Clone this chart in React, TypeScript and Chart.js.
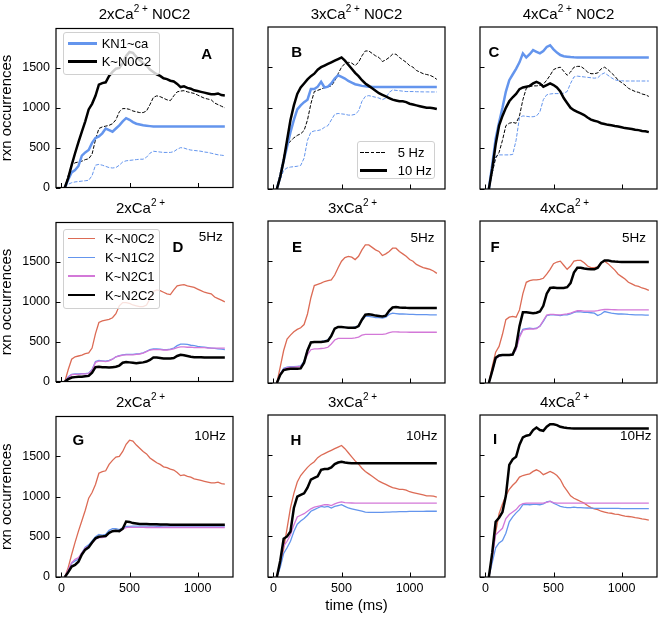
import React, { useEffect, useRef } from 'react';
import { Chart, registerables } from 'chart.js';

Chart.register(...registerables);

const FONT = "'Liberation Sans', Arial, Helvetica, sans-serif";
const RED = '#dc6b55';
const BLUE = '#6495ed';
const VIOLET = '#d378d8';
const BLACK = '#000000';
const DASH = [3.7, 1.6];

// time axis (ms)
const timeMs = [
  25, 50, 75, 100, 125, 150, 175, 200, 225, 250, 275, 300,
  325, 350, 375, 400, 425, 450, 475, 500, 525, 550, 575, 600,
  625, 650, 675, 700, 725, 750, 775, 800, 825, 850, 875, 900,
  925, 950, 975, 1000, 1025, 1050, 1075, 1100, 1125, 1150, 1175, 1200,
];
const xTicks = [0, 500, 1000];
const yTicks = [0, 500, 1000, 1500];

// ---- K~N0C2, 5 Hz (2x, 3x, 4x Ca2+)
const n0c2_5Hz_2x = [
  0, 150, 280, 310, 320, 330, 350, 360, 420, 600, 740, 760,
  770, 780, 800, 850, 950, 990, 990, 980, 960, 950, 940, 940,
  960, 1040, 1130, 1150, 1140, 1120, 1100, 1090, 1150, 1200, 1210, 1215,
  1200, 1190, 1180, 1160, 1140, 1120, 1110, 1100, 1060, 1040, 1020, 1000,
];
const n0c2_5Hz_3x = [
  0, 200, 400, 540, 590, 630, 660, 680, 720, 850, 1050, 1200,
  1215, 1230, 1250, 1260, 1270, 1330, 1420, 1500, 1545, 1560, 1550, 1520,
  1560, 1640, 1700, 1700, 1670, 1640, 1620, 1570, 1590, 1620, 1660, 1660,
  1620, 1590, 1560, 1520, 1500, 1460, 1440, 1420, 1410, 1400, 1380, 1350,
];
const n0c2_5Hz_4x = [
  0, 200, 380, 450, 600, 780, 810, 820, 810, 900, 1100, 1240,
  1260, 1270, 1270, 1275, 1290, 1340, 1400, 1470, 1490, 1500, 1450, 1400,
  1440, 1500, 1510, 1510, 1480, 1440, 1420, 1420, 1430, 1480, 1500, 1470,
  1430, 1390, 1340, 1310, 1280, 1240, 1220, 1200, 1190, 1170, 1160, 1140,
];
// ---- K~N0C2, 10 Hz
const n0c2_10Hz_2x = [
  0, 120, 280, 430, 570, 700, 830, 980, 1050, 1150, 1290, 1310,
  1320, 1400, 1450, 1490, 1500, 1560, 1650, 1700, 1690, 1640, 1600, 1560,
  1530, 1480, 1450, 1420, 1400, 1370, 1360, 1340, 1330, 1300, 1260, 1270,
  1250, 1240, 1220, 1210, 1200, 1190, 1180, 1170, 1170, 1180, 1160, 1155,
];
const n0c2_10Hz_3x = [
  0, 150, 350, 600, 850, 1030, 1170, 1250, 1300, 1350, 1390, 1420,
  1470, 1500, 1520, 1540, 1560, 1580, 1600, 1620, 1580, 1530, 1480, 1430,
  1390, 1340, 1300, 1270, 1240, 1210, 1180, 1160, 1140, 1120, 1100, 1090,
  1080, 1080, 1070, 1050, 1040, 1030, 1020, 1010, 1000, 1000, 995, 985,
];
const n0c2_10Hz_4x = [
  0, 250, 550, 780, 900, 1000, 1080, 1130, 1170, 1230, 1250, 1260,
  1270, 1300, 1320, 1300, 1260, 1280, 1300, 1280, 1250, 1200, 1120, 1060,
  1000, 970, 950, 930, 910, 880, 855, 840, 830, 810, 800, 790,
  785, 775, 770, 760, 750, 745, 740, 730, 725, 715, 710, 700,
];
// ---- KN1~ca (row 1)
const n1ca_5Hz_2x = [
  0, 40, 60, 70, 75, 80, 85, 90, 150, 280, 290, 280,
  265, 250, 245, 250, 280, 320, 335, 340, 345, 350, 355, 355,
  380, 430, 455, 450, 445, 440, 440, 440, 450, 480, 500, 495,
  480, 470, 465, 460, 455, 445, 440, 430, 420, 410, 405, 400,
];
const n1ca_5Hz_3x = [
  0, 120, 230, 260, 270, 275, 280, 290, 380, 600, 700, 715,
  720, 730, 760, 780, 850, 920, 930, 925, 920, 910, 910, 920,
  960, 1080, 1140, 1150, 1140, 1130, 1120, 1100, 1120, 1190, 1220, 1215,
  1210, 1205, 1200, 1200, 1200, 1198, 1197, 1196, 1196, 1195, 1195, 1195,
];
const n1ca_5Hz_4x = [
  0, 200, 400, 420, 420, 420, 420, 425, 600, 880, 900, 895,
  890, 890, 900, 950, 1100, 1160, 1170, 1175, 1175, 1175, 1180, 1200,
  1300, 1380, 1390, 1385, 1380, 1375, 1370, 1365, 1370, 1410, 1430, 1400,
  1370, 1345, 1335, 1332, 1330, 1330, 1330, 1330, 1330, 1330, 1330, 1330,
];
const n1ca_10Hz_2x = [
  0, 100, 190, 220, 270, 400, 440, 470, 560, 620, 640, 680,
  740, 720, 700, 740, 780, 830, 870, 850, 820, 800, 790, 780,
  775, 770, 765, 765, 765, 765, 765, 765, 765, 765, 765, 765,
  765, 765, 765, 765, 765, 765, 765, 765, 765, 765, 765, 765,
];
const n1ca_10Hz_3x = [
  0, 150, 350, 520, 700, 850, 980, 1030, 1070, 1100, 1230, 1230,
  1260, 1320, 1250, 1260, 1300, 1360, 1400, 1380, 1360, 1330, 1310, 1290,
  1280, 1270, 1265, 1260, 1258, 1257, 1256, 1256, 1256, 1256, 1256, 1256,
  1257, 1257, 1257, 1257, 1257, 1257, 1257, 1257, 1257, 1257, 1257, 1257,
];
const n1ca_10Hz_4x = [
  0, 300, 620, 820, 1000, 1200, 1340, 1410, 1480, 1560, 1670, 1620,
  1660, 1710, 1690, 1670, 1700, 1750, 1770, 1720, 1680, 1650, 1635, 1630,
  1625, 1622, 1620, 1620, 1620, 1620, 1620, 1620, 1620, 1620, 1620, 1620,
  1620, 1620, 1620, 1620, 1620, 1620, 1620, 1620, 1620, 1620, 1620, 1620,
];
// ---- K~N1C2
const n1c2_5Hz_2x = [
  0, 60, 90, 95, 95, 100, 100, 105, 150, 250, 265, 260,
  255, 265, 280, 310, 325, 335, 340, 340, 340, 345, 350, 360,
  380, 400, 410, 410, 405, 400, 400, 405, 420, 450, 470, 470,
  465, 455, 450, 440, 435, 430, 425, 420, 415, 410, 405, 400,
];
const n1c2_5Hz_3x = [
  0, 110, 180, 195, 200, 200, 205, 210, 270, 410, 500, 505,
  505, 510, 520, 530, 590, 670, 690, 690, 685, 680, 680, 690,
  700, 770, 820, 820, 815, 805, 805, 800, 810, 845, 860, 855,
  850, 850, 848, 845, 845, 843, 842, 842, 841, 840, 840, 840,
];
const n1c2_5Hz_4x = [
  0, 150, 300, 330, 340, 340, 345, 350, 420, 580, 660, 670,
  675, 670, 675, 700, 760, 830, 840, 840, 835, 830, 840, 840,
  850, 870, 880, 875, 870, 870, 865, 860, 830, 850, 880, 870,
  860, 855, 850, 850, 848, 845, 843, 840, 840, 838, 836, 835,
];
const n1c2_10Hz_2x = [
  0, 80, 170, 200, 220, 300, 370, 400, 450, 500, 530, 520,
  530, 580, 600, 600, 590, 610, 630, 630, 632, 632, 632, 632,
  633, 632, 632, 631, 631, 632, 632, 633, 633, 632, 632, 632,
  632, 632, 632, 632, 632, 632, 632, 632, 632, 632, 632, 632,
];
const n1c2_10Hz_3x = [
  0, 120, 290, 360, 440, 560, 650, 690, 720, 760, 810, 830,
  850, 870, 860, 870, 850, 870, 880, 890, 870, 850, 840, 830,
  820, 810, 800, 795, 795, 795, 795, 797, 800, 800, 802, 803,
  804, 805, 806, 807, 808, 808, 809, 809, 810, 810, 810, 810,
];
const n1c2_10Hz_4x = [
  0, 180, 360, 420, 450, 540, 680, 740, 790, 830, 890, 895,
  890, 895, 895, 890, 900, 925, 935, 910, 890, 870, 860, 855,
  855, 860, 855, 855, 852, 850, 848, 846, 845, 845, 845, 845,
  845, 844, 844, 843, 843, 843, 843, 843, 843, 843, 843, 843,
];
// ---- K~N2C1
const n2c1_5Hz_2x = [
  0, 50, 85, 90, 90, 95, 95, 100, 140, 240, 255, 255,
  250, 260, 280, 310, 320, 330, 335, 335, 335, 340, 345, 355,
  375, 395, 400, 400, 400, 395, 395, 400, 410, 425, 435, 435,
  430, 430, 425, 425, 425, 425, 420, 420, 420, 420, 420, 420,
];
const n2c1_5Hz_3x = [
  0, 110, 170, 190, 195, 195, 200, 205, 250, 350, 410, 420,
  420, 425, 430, 440, 480, 530, 550, 550, 550, 550, 550, 555,
  565, 590, 600, 600, 600, 600, 600, 600, 605, 620, 630, 630,
  628, 627, 626, 625, 625, 625, 625, 625, 625, 625, 625, 625,
];
const n2c1_5Hz_4x = [
  0, 140, 300, 330, 345, 350, 350, 355, 410, 560, 650, 660,
  665, 665, 670, 700, 770, 835, 845, 845, 840, 840, 845, 850,
  860, 875, 890, 890, 885, 885, 885, 885, 890, 900, 905, 905,
  903, 902, 901, 900, 900, 900, 900, 900, 900, 900, 900, 900,
];
const n2c1_10Hz_2x = [
  0, 90, 180, 220, 240, 300, 360, 380, 420, 470, 490, 490,
  500, 550, 570, 570, 570, 590, 615, 620, 618, 617, 616, 616,
  615, 615, 615, 615, 615, 615, 615, 615, 615, 615, 615, 615,
  615, 615, 615, 615, 615, 615, 615, 615, 615, 615, 615, 615,
];
const n2c1_10Hz_3x = [
  0, 200, 380, 440, 520, 640, 740, 760, 780, 810, 840, 860,
  870, 880, 890, 890, 880, 900, 915, 925, 915, 912, 911, 910,
  910, 910, 910, 910, 910, 910, 910, 910, 910, 910, 910, 910,
  910, 910, 910, 910, 910, 910, 910, 910, 910, 910, 910, 910,
];
const n2c1_10Hz_4x = [
  0, 250, 520, 560, 600, 720, 770, 800, 830, 880, 905, 910,
  910, 910, 910, 910, 910, 920, 930, 915, 910, 910, 910, 910,
  910, 910, 910, 910, 910, 910, 910, 910, 910, 910, 910, 910,
  910, 910, 910, 910, 910, 910, 910, 910, 910, 910, 910, 910,
];
// ---- K~N2C2
const n2c2_5Hz_2x = [
  0, 30, 50, 55, 60, 60, 65, 70, 110, 180, 185, 180,
  178, 175, 180, 185, 200, 235, 245, 240, 235, 230, 235, 240,
  250, 270, 300, 300, 295, 290, 290, 290, 295, 320, 335, 330,
  320, 310, 305, 305, 305, 300, 300, 300, 300, 300, 300, 300,
];
const n2c2_5Hz_3x = [
  0, 100, 160, 170, 175, 175, 175, 180, 250, 400, 500, 505,
  505, 505, 510, 520, 580, 670, 690, 690, 685, 680, 680, 680,
  700, 780, 840, 845, 840, 830, 825, 820, 830, 890, 930, 935,
  930, 928, 926, 925, 925, 925, 925, 925, 925, 925, 925, 925,
];
const n2c2_5Hz_4x = [
  0, 150, 310, 340, 345, 345, 345, 350, 450, 700, 870, 870,
  865, 860, 865, 880, 950, 1100, 1170, 1175, 1170, 1170, 1170, 1180,
  1230, 1360, 1420, 1420, 1410, 1405, 1400, 1400, 1420, 1480, 1510, 1510,
  1500, 1495, 1492, 1490, 1490, 1490, 1490, 1490, 1490, 1490, 1490, 1490,
];
const n2c2_10Hz_2x = [
  0, 60, 130, 150, 190, 280, 340, 370, 430, 480, 500, 505,
  510, 550, 570, 575, 570, 600, 690, 685, 670, 665, 660, 660,
  658, 656, 655, 655, 653, 652, 652, 651, 651, 650, 650, 650,
  650, 650, 650, 650, 650, 650, 650, 650, 650, 650, 650, 650,
];
const n2c2_10Hz_3x = [
  0, 200, 470, 500, 560, 850, 990, 1010, 1030, 1100, 1200, 1220,
  1240, 1320, 1330, 1330, 1350, 1390, 1410, 1420, 1410, 1405, 1400, 1400,
  1400, 1400, 1400, 1400, 1400, 1400, 1400, 1400, 1400, 1400, 1400, 1400,
  1400, 1400, 1400, 1400, 1400, 1400, 1400, 1400, 1400, 1400, 1400, 1400,
];
const n2c2_10Hz_4x = [
  0, 300, 680, 730, 800, 1000, 1380, 1450, 1480, 1630, 1720, 1740,
  1750, 1810, 1840, 1810, 1800, 1850, 1880, 1880, 1870, 1850, 1840, 1835,
  1832, 1830, 1830, 1830, 1830, 1830, 1830, 1830, 1830, 1830, 1830, 1830,
  1830, 1830, 1830, 1830, 1830, 1830, 1830, 1830, 1830, 1830, 1830, 1830,
];

const caLevels = ['2', '3', '4'];
const panelLetters = [['A', 'B', 'C'], ['D', 'E', 'F'], ['G', 'H', 'I']];

// ---- layout (page pixels)
const BOX_L = [56, 268, 480];
const BOX_T = [27, 221, 415];
const BOX_W = 177;
const BOX_H = 162;

type Line = { data: number[]; color: string; width: number; dash?: number[] };

const n0c2_5 = [n0c2_5Hz_2x, n0c2_5Hz_3x, n0c2_5Hz_4x];
const n0c2_10 = [n0c2_10Hz_2x, n0c2_10Hz_3x, n0c2_10Hz_4x];
const n1ca_5 = [n1ca_5Hz_2x, n1ca_5Hz_3x, n1ca_5Hz_4x];
const n1ca_10 = [n1ca_10Hz_2x, n1ca_10Hz_3x, n1ca_10Hz_4x];
const n1c2 = [[n1c2_5Hz_2x, n1c2_5Hz_3x, n1c2_5Hz_4x], [n1c2_10Hz_2x, n1c2_10Hz_3x, n1c2_10Hz_4x]];
const n2c1 = [[n2c1_5Hz_2x, n2c1_5Hz_3x, n2c1_5Hz_4x], [n2c1_10Hz_2x, n2c1_10Hz_3x, n2c1_10Hz_4x]];
const n2c2 = [[n2c2_5Hz_2x, n2c2_5Hz_3x, n2c2_5Hz_4x], [n2c2_10Hz_2x, n2c2_10Hz_3x, n2c2_10Hz_4x]];

function linesFor(row: number, col: number): Line[] {
  if (row === 0) {
    return [
      { data: n0c2_10[col], color: BLACK, width: 2.5 },
      { data: n1ca_10[col], color: BLUE, width: 2.5 },
      { data: n0c2_5[col], color: BLACK, width: 1, dash: DASH },
      { data: n1ca_5[col], color: BLUE, width: 1, dash: DASH },
    ];
  }
  const f = row - 1;
  const red = f === 0 ? n0c2_5[col] : n0c2_10[col];
  return [
    { data: n2c2[f][col], color: BLACK, width: 2.5 },
    { data: n2c1[f][col], color: VIOLET, width: 1.3 },
    { data: n1c2[f][col], color: BLUE, width: 1.3 },
    { data: red, color: RED, width: 1.3 },
  ];
}

const framePlugin = {
  id: 'frameTicks',
  afterDatasetsDraw(chart: any) {
    const { ctx, chartArea: a, scales } = chart;
    ctx.save();
    ctx.strokeStyle = '#000';
    ctx.lineWidth = 1;
    ctx.beginPath();
    for (const v of xTicks) {
      const px = Math.round(scales.x.getPixelForValue(v)) + 0.5;
      ctx.moveTo(px, a.bottom);
      ctx.lineTo(px, a.bottom - 4.5);
    }
    for (const v of yTicks) {
      const py = Math.round(scales.y.getPixelForValue(v)) + 0.5;
      ctx.moveTo(a.left, py);
      ctx.lineTo(a.left + 4.5, py);
    }
    ctx.stroke();
    ctx.lineWidth = 1.2;
    ctx.strokeRect(a.left, a.top, a.right - a.left, a.bottom - a.top);
    ctx.restore();
  },
};

function PanelChart({ row, col }: { row: number; col: number }) {
  const ref = useRef<HTMLCanvasElement>(null);
  const ML = col === 0 ? 57 : 12;
  const MR = col === 2 ? 2 : 12;
  const MT = 12;
  const MB = row === 2 ? 40 : 12;
  const left = BOX_L[col] - ML;
  const top = BOX_T[row] - MT;
  const width = ML + BOX_W + MR;
  const height = MT + BOX_H + MB;

  useEffect(() => {
    if (!ref.current) return;
    const lines = linesFor(row, col);
    const chart = new Chart(ref.current, {
      type: 'line',
      data: {
        datasets: lines.map((l) => ({
          data: timeMs.map((t, i) => ({ x: t, y: l.data[i] })),
          borderColor: l.color,
          borderWidth: l.width,
          borderDash: l.dash || [],
          pointRadius: 0,
          fill: false,
          tension: 0,
        })),
      },
      options: {
        responsive: false,
        animation: false,
        devicePixelRatio: 1,
        events: [],
        layout: { padding: { left: 0, top: MT, right: MR, bottom: 0 } },
        plugins: { legend: { display: false }, tooltip: { enabled: false }, title: { display: false } },
        scales: {
          x: {
            type: 'linear',
            min: -40,
            max: 1260,
            afterBuildTicks: (s: any) => { s.ticks = xTicks.map((v) => ({ value: v })); },
            afterFit: (s: any) => { s.height = MB; },
            grid: { display: false, drawTicks: false },
            border: { display: false },
            ticks: {
              display: row === 2,
              maxRotation: 0,
              autoSkip: false,
              color: '#000',
              padding: 4,
              font: { family: FONT, size: 12.5 },
              callback: (v: any) => String(v),
            },
            title: {
              display: row === 2 && col === 1,
              text: 'time (ms)',
              color: '#000',
              font: { family: FONT, size: 15, lineHeight: 1 },
              padding: { top: 0, bottom: 3.8 },
            },
          },
          y: {
            type: 'linear',
            min: 0,
            max: 1995,
            afterBuildTicks: (s: any) => { s.ticks = yTicks.map((v) => ({ value: v })); },
            afterFit: (s: any) => { s.width = ML; },
            grid: { display: false, drawTicks: false },
            border: { display: false },
            ticks: {
              display: col === 0,
              autoSkip: false,
              color: '#000',
              padding: 6,
              font: { family: FONT, size: 12.5 },
              callback: (v: any) => String(v),
            },
            title: {
              display: col === 0,
              text: 'rxn occurrences',
              color: '#000',
              font: { family: FONT, size: 15, lineHeight: 1 },
              padding: { top: 0, bottom: 0 },
            },
          },
        },
      } as any,
      plugins: [framePlugin],
    });
    return () => chart.destroy();
  }, [row, col]);

  return (
    <canvas
      ref={ref}
      width={width}
      height={height}
      style={{ position: 'absolute', left, top, width, height }}
    />
  );
}

const textBase: React.CSSProperties = { position: 'absolute', fontFamily: FONT, whiteSpace: 'nowrap', color: '#000' };

function PanelTitle({ row, col }: { row: number; col: number }) {
  const cx = BOX_L[col] + BOX_W / 2 + (row === 0 ? 0 : -4);
  const top = BOX_T[row] - 21.4;
  const suffix = row === 0 ? ' N0C2' : '';
  return (
    <div style={{ ...textBase, left: cx, top, transform: 'translateX(-50%)', fontSize: 15, lineHeight: '15px' }}>
      {caLevels[col]}xCa
      <span style={{ fontSize: 10, position: 'relative', top: -6.6 }}>2 +</span>
      {suffix}
    </div>
  );
}

// letter centres and Hz label centres (page px)
const letterPos = [
  [[206.7, 53.3], [296.7, 51.7], [494, 51]],
  [[178, 246], [297, 246], [495, 246.7]],
  [[78.3, 439], [296, 439], [495, 438.3]],
];
const hzLabels = [
  [null, null, null],
  [['5Hz', 210.8, 236.7], ['5Hz', 422.5, 238], ['5Hz', 634, 238]],
  [['10Hz', 210, 436], ['10Hz', 421.7, 436], ['10Hz', 635.8, 436]],
] as const;

function CenteredText({ x, y, text, size, bold }: { x: number; y: number; text: string; size: number; bold?: boolean }) {
  return (
    <div
      style={{
        ...textBase,
        left: x,
        top: y - size / 2,
        fontSize: size,
        lineHeight: `${size}px`,
        fontWeight: bold ? 'bold' : 'normal',
        transform: 'translateX(-50%)',
      }}
    >
      {text}
    </div>
  );
}

type LegendEntry = { y: number; label: string; color: string; width: number; dashed?: boolean };
type LegendSpec = { l: number; t: number; r: number; b: number; sx0: number; sx1: number; tx: number; entries: LegendEntry[] };

const legendA: LegendSpec = {
  l: 62.7, t: 31.7, r: 160, b: 75, sx0: 68.3, sx1: 96.7, tx: 101.7,
  entries: [
    { y: 43.3, label: 'KN1~ca', color: BLUE, width: 2.5 },
    { y: 61.7, label: 'K~N0C2', color: BLACK, width: 2.5 },
  ],
};
const legendB: LegendSpec = {
  l: 357, t: 141.3, r: 435.3, b: 178.7, sx0: 360.3, sx1: 387, tx: 397.7,
  entries: [
    { y: 152, label: '5 Hz', color: BLACK, width: 1, dashed: true },
    { y: 170.3, label: '10 Hz', color: BLACK, width: 2.5 },
  ],
};
const legendD: LegendSpec = {
  l: 63.3, t: 229.3, r: 160, b: 309, sx0: 68.3, sx1: 95, tx: 105,
  entries: [
    { y: 238.3, label: 'K~N0C2', color: RED, width: 1.3 },
    { y: 257.7, label: 'K~N1C2', color: BLUE, width: 1.3 },
    { y: 276, label: 'K~N2C1', color: VIOLET, width: 1.3 },
    { y: 295, label: 'K~N2C2', color: BLACK, width: 2.5 },
  ],
};

function Legend({ spec }: { spec: LegendSpec }) {
  return (
    <>
      <div
        style={{
          position: 'absolute',
          left: spec.l,
          top: spec.t,
          width: spec.r - spec.l,
          height: spec.b - spec.t,
          boxSizing: 'border-box',
          border: '1px solid #d0d0d0',
          borderRadius: 3,
          background: 'rgba(255,255,255,0.8)',
        }}
      />
      {spec.entries.map((e, i) => (
        <React.Fragment key={i}>
          <div
            style={{
              position: 'absolute',
              left: spec.sx0,
              top: e.y - e.width / 2,
              width: spec.sx1 - spec.sx0,
              height: e.width,
              background: e.dashed
                ? `repeating-linear-gradient(to right, ${e.color} 0px, ${e.color} 3.7px, transparent 3.7px, transparent 5.3px)`
                : e.color,
            }}
          />
          <div style={{ ...textBase, left: spec.tx, top: e.y - 6.5, fontSize: 13, lineHeight: '13px' }}>{e.label}</div>
        </React.Fragment>
      ))}
    </>
  );
}

export default function App() {
  const cells: Array<[number, number]> = [];
  for (let r = 0; r < 3; r++) for (let c = 0; c < 3; c++) cells.push([r, c]);
  return (
    <div
      style={{
        position: 'absolute',
        left: 0,
        top: 0,
        width: 659,
        height: 620,
        overflow: 'hidden',
        background: '#fff',
        fontFamily: FONT,
      }}
    >
      {cells.map(([r, c]) => (
        <PanelChart key={`p${r}${c}`} row={r} col={c} />
      ))}
      {cells.map(([r, c]) => (
        <PanelTitle key={`t${r}${c}`} row={r} col={c} />
      ))}
      <Legend spec={legendA} />
      <Legend spec={legendB} />
      <Legend spec={legendD} />
      {cells.map(([r, c]) => (
        <CenteredText
          key={`l${r}${c}`}
          x={letterPos[r][c][0]}
          y={letterPos[r][c][1]}
          text={panelLetters[r][c]}
          size={15}
          bold
        />
      ))}
      {cells.map(([r, c]) => {
        const h = hzLabels[r][c];
        if (!h) return null;
        return <CenteredText key={`h${r}${c}`} x={h[1]} y={h[2]} text={h[0]} size={13.5} />;
      })}
    </div>
  );
}
